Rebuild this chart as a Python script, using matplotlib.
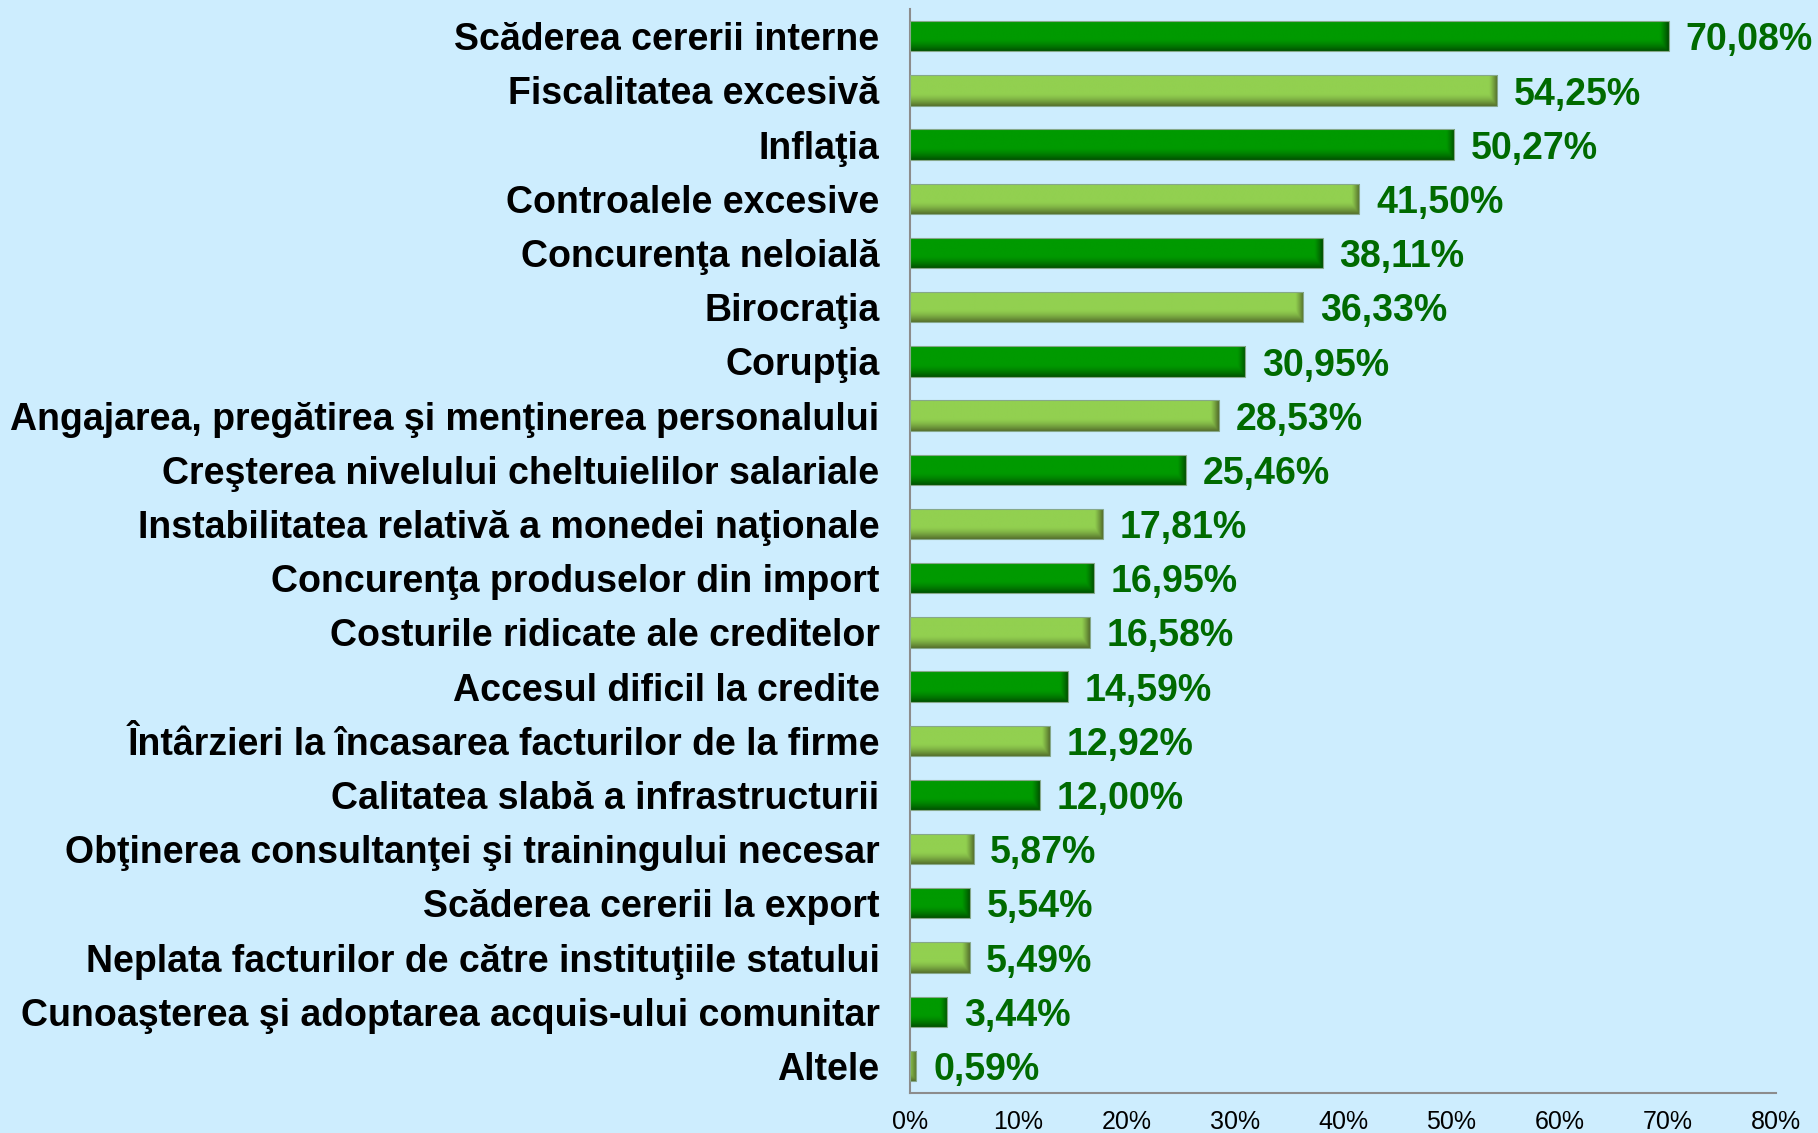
import numpy as np
import matplotlib.pyplot as plt
from matplotlib.colors import to_rgb
from matplotlib.ticker import FuncFormatter

categories = [
    'Scăderea cererii interne',
    'Fiscalitatea excesivă',
    'Inflaţia',
    'Controalele excesive',
    'Concurenţa neloială',
    'Birocraţia',
    'Corupţia',
    'Angajarea, pregătirea şi menţinerea personalului',
    'Creşterea nivelului cheltuielilor salariale',
    'Instabilitatea relativă a monedei naţionale',
    'Concurenţa produselor din import',
    'Costurile ridicate ale creditelor',
    'Accesul dificil la credite',
    'Întârzieri la încasarea facturilor de la firme',
    'Calitatea slabă a infrastructurii',
    'Obţinerea consultanţei şi trainingului necesar',
    'Scăderea cererii la export',
    'Neplata facturilor de către instituţiile statului',
    'Cunoaşterea şi adoptarea acquis-ului comunitar',
    'Altele',
]
values = [70.08, 54.25, 50.27, 41.50, 38.11, 36.33, 30.95, 28.53, 25.46, 17.81,
          16.95, 16.58, 14.59, 12.92, 12.00, 5.87, 5.54, 5.49, 3.44, 0.59]
value_labels = ['70,08%', '54,25%', '50,27%', '41,50%', '38,11%', '36,33%', '30,95%',
                '28,53%', '25,46%', '17,81%', '16,95%', '16,58%', '14,59%', '12,92%',
                '12,00%', '5,87%', '5,54%', '5,49%', '3,44%', '0,59%']

bg = '#cdedfe'
dark = ('#009a00', '#005200')   # base, shadow
light = ('#92d050', '#55702c')

plt.rcParams['font.family'] = ['Liberation Sans', 'DejaVu Sans']

fig = plt.figure(figsize=(18.18, 11.33), dpi=100, facecolor=bg)
ax = fig.add_axes([0.5006, 0.0353, 0.4764, 0.9567])
ax.set_facecolor(bg)

y = np.arange(len(categories))
h = 0.56
edge = 0.75   # width of the dark right end, in % units


def shade(base, shadow, v, n=64, m=400):
    b = np.array(to_rgb(base))
    s = np.array(to_rgb(shadow))
    # vertical: dark at top fading to base
    r = np.linspace(0, 1, n)[:, None]
    tv = np.clip(1 - r / 0.4, 0, 1) ** 1.5
    # horizontal: dark at right edge, fixed width
    x = np.linspace(0, v, m)[None, :]
    tu = np.clip((x - (v - edge)) / edge, 0, 1) ** 1.2
    t = np.maximum(tv, tu)[..., None]
    return b * (1 - t) + s * t


for i, (yy, v) in enumerate(zip(y, values)):
    base, shadow = dark if i % 2 == 0 else light
    bar = ax.barh(yy, v, height=h, color=base, edgecolor='none', zorder=2)[0]
    im = ax.imshow(shade(base, shadow, v), extent=(0, v, yy - h / 2, yy + h / 2),
                   aspect='auto', origin='upper', zorder=3, interpolation='bilinear')
    im.set_clip_path(bar)
    ax.barh(yy, v, height=h, color='none', edgecolor='#86a88a', linewidth=0.8, zorder=4)
    ax.annotate(value_labels[i], (v, yy), xytext=(12, -3), textcoords='offset points',
                va='center', ha='left', fontsize=27, fontweight='bold', color='#006a00')

ax.set_xlim(0, 80)
ax.set_ylim(len(categories) - 0.5, -0.5)
ax.set_xticks(np.arange(0, 81, 10))
ax.xaxis.set_major_formatter(FuncFormatter(lambda x, p: f'{x:.0f}%'))
ax.set_yticks(y)
ax.set_yticklabels(categories, fontsize=27, fontweight='bold')
for t in ax.get_yticklabels():
    t.set_y(t.get_position()[1])
ax.tick_params(axis='y', length=0, pad=22)
ax.tick_params(axis='x', length=0, pad=12, labelsize=18)

for s in ['top', 'right']:
    ax.spines[s].set_visible(False)
for s in ['left', 'bottom']:
    ax.spines[s].set_color('#8c8c8c')
    ax.spines[s].set_linewidth(1.5)

fig.savefig('out.png', dpi=100, facecolor=bg)
